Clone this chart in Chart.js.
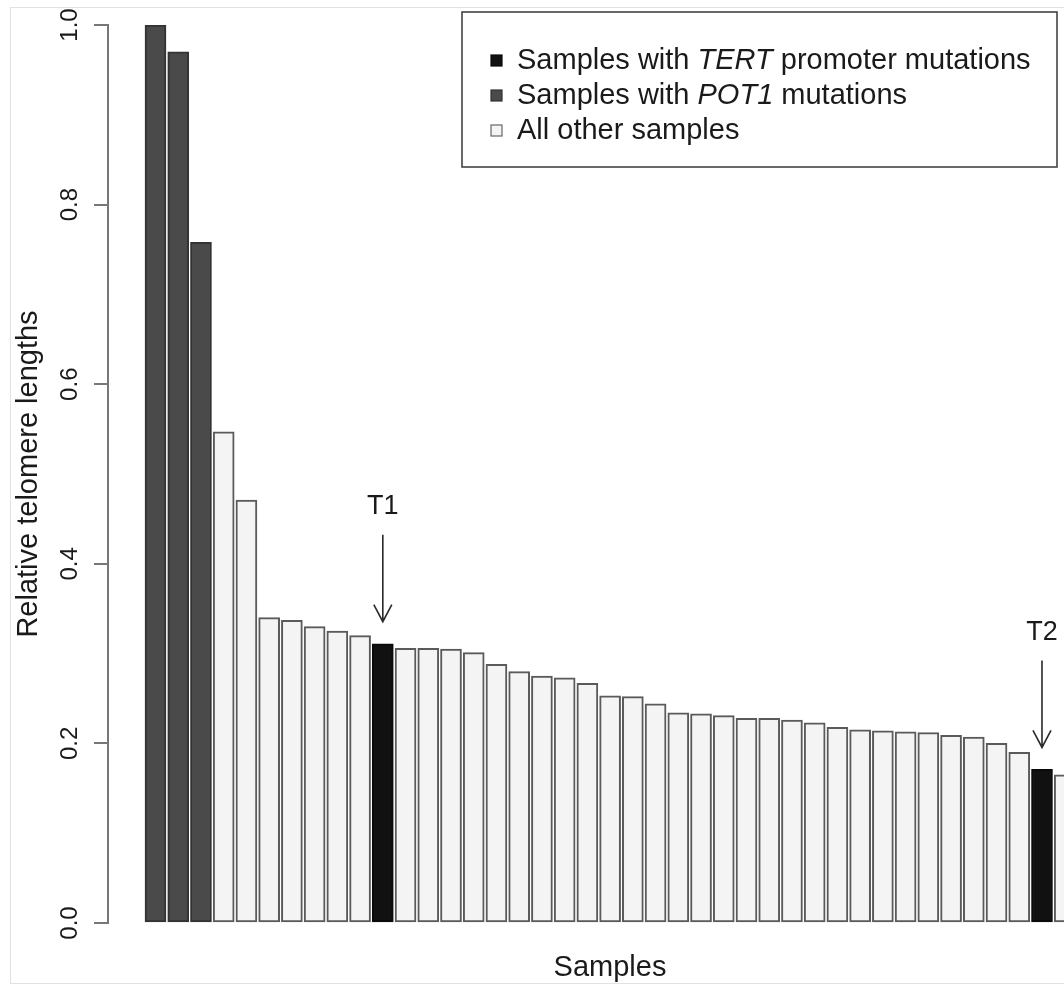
<!DOCTYPE html>
<html>
<head>
<meta charset="utf-8">
<script src="https://cdn.jsdelivr.net/npm/chart.js@4.4.1/dist/chart.umd.min.js"></script>
<style>
    html, body { margin: 0; padding: 0; background: #fff; overflow: hidden; }
    #frame { position: absolute; left: 10px; top: 7px; width: 1120px; height: 975px; border: 1px solid #e2e2e2; }
    #wrap { position: absolute; left: 0; top: 0; }
</style>
</head>
<body>
<div id="frame"></div>
<div id="wrap"><canvas id="myChart" width="1130" height="985"></canvas></div>
<script>
// data
const sampleIds = [
    1, 2, 3, 4, 5, 6, 7, 8, 9, 10,
    11, 12, 13, 14, 15, 16, 17, 18, 19, 20,
    21, 22, 23, 24, 25, 26, 27, 28, 29, 30,
    31, 32, 33, 34, 35, 36, 37, 38, 39, 40,
    41
]
const telomereLengths = [
    1.000, 0.970, 0.758, 0.547, 0.471, 0.340, 0.337, 0.330, 0.325, 0.320,
    0.311, 0.306, 0.306, 0.305, 0.301, 0.288, 0.280, 0.275, 0.273, 0.267,
    0.253, 0.252, 0.244, 0.234, 0.233, 0.231, 0.228, 0.228, 0.226, 0.223,
    0.218, 0.215, 0.214, 0.213, 0.212, 0.209, 0.207, 0.200, 0.190, 0.171,
    0.165
]
const pot1Samples = [1, 2, 3]
const tertSamples = [11, 40]
const tertLabels = ['T1', 'T2']
const yTicks = [0, 0.2, 0.4, 0.6, 0.8, 1.0]

const FONT = 'Liberation Sans, Arial, Helvetica, sans-serif'
const COLORS = {
    tert: { fill: '#111111', border: '#0a0a0a' },
    pot1: { fill: '#4a4a4a', border: '#333333' },
    other: { fill: '#f4f4f4', border: '#5a5a5a' },
}

function groupOf(id) {
    if (tertSamples.includes(id)) return 'tert'
    if (pot1Samples.includes(id)) return 'pot1'
    return 'other'
}

const legendRows = [
    { group: 'tert', parts: [['Samples with ', false], ['TERT', true], [' promoter mutations', false]] },
    { group: 'pot1', parts: [['Samples with ', false], ['POT1', true], [' mutations', false]] },
    { group: 'other', parts: [['All other samples', false]] },
]

// setup
const data = {
    datasets: [
        {
            label: 'Relative telomere lengths',
            data: sampleIds.map((id, i) => ({ x: id, y: telomereLengths[i] })),
            backgroundColor: sampleIds.map(id => COLORS[groupOf(id)].fill),
            borderColor: sampleIds.map(id => COLORS[groupOf(id)].border),
            borderWidth: 2,
            borderSkipped: false,
            barThickness: 21,
        },
    ]
}

// T1 / T2 arrows above the TERT bars
const arrowPlugin = {
    id: 'arrows',
    afterDatasetsDraw(chart) {
        const { ctx, scales: { x, y } } = chart
        ctx.save()
        ctx.strokeStyle = '#2a2a2a'
        ctx.fillStyle = '#1a1a1a'
        ctx.lineWidth = 1.6
        ctx.font = '27px ' + FONT
        ctx.textAlign = 'center'
        ctx.textBaseline = 'middle'
        tertSamples.forEach((id, k) => {
            const px = x.getPixelForValue(id)
            const tip = y.getPixelForValue(telomereLengths[id - 1]) - 22
            const start = tip - 87
            ctx.beginPath()
            ctx.moveTo(px, start)
            ctx.lineTo(px, tip)
            ctx.moveTo(px - 9, tip - 17)
            ctx.lineTo(px, tip)
            ctx.lineTo(px + 9, tip - 17)
            ctx.stroke()
            ctx.fillText(tertLabels[k], px, start - 28)
        })
        ctx.restore()
    }
}

// legend with italic gene names
const legendPlugin = {
    id: 'boxLegend',
    afterDraw(chart) {
        const { ctx } = chart
        const box = { x: 462, y: 12, w: 595, h: 155 }
        ctx.save()
        ctx.strokeStyle = '#444'
        ctx.lineWidth = 1.6
        ctx.strokeRect(box.x, box.y, box.w, box.h)
        ctx.textBaseline = 'middle'
        legendRows.forEach((row, i) => {
            const cy = box.y + 48 + i * 35
            const c = COLORS[row.group]
            ctx.fillStyle = c.fill
            ctx.fillRect(491, cy - 5, 11, 11)
            ctx.strokeStyle = row.group === 'other' ? '#666' : c.border
            ctx.lineWidth = 1.2
            ctx.strokeRect(491, cy - 5, 11, 11)
            let tx = 517
            ctx.fillStyle = '#1a1a1a'
            row.parts.forEach(([text, italic]) => {
                ctx.font = (italic ? 'italic ' : '') + '29px ' + FONT
                ctx.fillText(text, tx, cy + 1)
                tx += ctx.measureText(text).width
            })
        })
        ctx.restore()
    }
}

// config
const config = {
    type: 'bar',
    data,
    options: {
        responsive: false,
        animation: false,
        layout: {
            padding: { top: 25, right: 18, bottom: 0, left: 0 }
        },
        plugins: {
            legend: { display: false },
            tooltip: { enabled: false },
        },
        scales: {
            x: {
                type: 'linear',
                min: -1.09,
                max: 43.08,
                offset: false,
                grid: { display: false, offset: false },
                border: { display: false },
                ticks: { display: false },
                title: {
                    display: true,
                    text: 'Samples',
                    color: '#1a1a1a',
                    font: { family: FONT, size: 29 },
                    padding: { top: 0, bottom: 0 },
                },
                afterFit: scale => {
                    scale.height = 62
                    scale.paddingLeft = 0
                    scale.paddingRight = 0
                },
            },
            y: {
                min: 0,
                max: 1,
                afterBuildTicks: scale => { scale.ticks = yTicks.map(v => ({ value: v })) },
                ticks: {
                    minRotation: 90,
                    maxRotation: 90,
                    crossAlign: 'center',
                    padding: 7,
                    color: '#1a1a1a',
                    font: { family: FONT, size: 24 },
                    callback: v => v.toFixed(1),
                },
                grid: {
                    drawOnChartArea: false,
                    drawTicks: true,
                    tickLength: 14,
                    color: '#777',
                    lineWidth: 2,
                },
                border: { display: true, color: '#777', width: 2 },
                title: {
                    display: true,
                    text: 'Relative telomere lengths',
                    color: '#1a1a1a',
                    font: { family: FONT, size: 29 },
                    padding: { top: 12, bottom: 0 },
                },
                afterFit: scale => { scale.width = 108 },
            }
        }
    },
    plugins: [arrowPlugin, legendPlugin]
}

// render
const ctx = document.getElementById('myChart')
const myChart = new Chart(ctx, config)
</script>
</body>
</html>
